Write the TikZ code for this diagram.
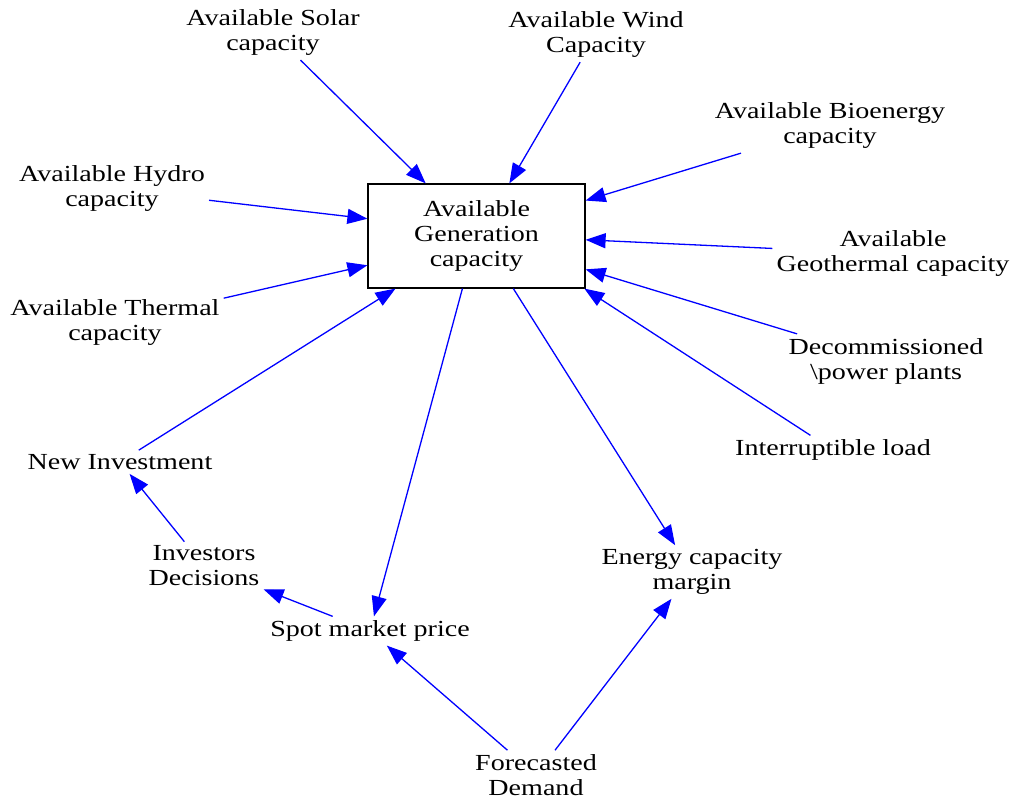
\documentclass[tikz,border=0pt]{standalone}
\usepackage{fontspec}
\setmainfont{Liberation Serif}[FakeStretch=1.22]
\usepackage{tikz}
\usetikzlibrary{arrows.meta}
\definecolor{linkblue}{RGB}{0,0,255}

\begin{document}
\begin{tikzpicture}[x=1pt, y=-1pt,
    var/.style={align=center, inner sep=4pt, font=\fontsize{23}{25}\selectfont},
    stock/.style={rectangle, draw=black, line width=1.2pt, minimum width=217pt,
        minimum height=104pt, align=center, font=\fontsize{23}{25}\selectfont},
    arr/.style={-{Triangle[length=20pt, width=15pt]}, draw=linkblue, line width=1.3pt}
]
\useasboundingbox (0,0) rectangle (1016,799);

% stock in the middle
\node[stock] (agc) at (476.5,236) {Available\\Generation\\capacity};

% capacity sources
\node[var] (solar) at (273,33) {Available Solar\\capacity};
\node[var] (wind) at (596,35) {Available Wind\\Capacity};
\node[var] (bio) at (830,126) {Available Bioenergy\\capacity};
\node[var] (hydro) at (112,189) {Available Hydro\\capacity};
\node[var] (geo) at (893,254) {Available\\Geothermal capacity};
\node[var] (thermal) at (115,323) {Available Thermal\\capacity};
\node[var] (decom) at (886,361) {Decommissioned\\\textbackslash power plants};
\node[var] (interr) at (833,450) {Interruptible load};

% market side
\node[var] (newinv) at (120,462) {New Investment};
\node[var] (investors) at (204,566) {Investors\\Decisions};
\node[var] (margin) at (692,572) {Energy capacity\\margin};
\node[var] (spot) at (370,631) {Spot market price};
\node[var] (demand) at (536,775) {Forecasted\\Demand};

% links into the stock
\draw[arr] (solar) -- (agc.134);
\draw[arr] (wind) -- (agc.58);
\draw[arr] (bio) -- (agc.18);
\draw[arr] (hydro) -- (agc.171);
\draw[arr] (geo) -- (agc.-2);
\draw[arr] (thermal) -- (agc.-165);
\draw[arr] (decom) -- (agc.-17);
\draw[arr] (interr) -- (agc.-26);
\draw[arr] (newinv) -- (agc.-147);

% links out of the stock
\draw[arr] (agc.-105) -- (spot);
\draw[arr] (agc.-55) -- (margin);

% feedback loop
\draw[arr] (spot) -- (investors);
\draw[arr] (investors) -- (newinv);
\draw[arr] (demand) -- (spot);
\draw[arr] (demand) -- (margin);
\end{tikzpicture}
\end{document}
